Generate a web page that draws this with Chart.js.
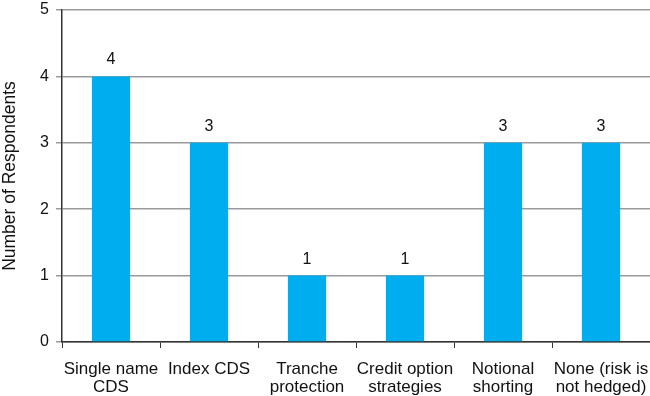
<!DOCTYPE html>
<html>
<head>
<meta charset="utf-8">
<script src="https://cdn.jsdelivr.net/npm/chart.js@4/dist/chart.umd.min.js"></script>
<style>
html,body{margin:0;padding:0;background:#fff;}
#wrap{width:650px;height:396px;position:relative;}
</style>
</head>
<body>
<div id="wrap"><canvas id="c" width="650" height="396"></canvas></div>
<script>
const categories = [
  ["Single name", "CDS"],
  ["Index CDS"],
  ["Tranche", "protection"],
  ["Credit option", "strategies"],
  ["Notional", "shorting"],
  ["None (risk is", "not hedged)"]
];
const respondents = [4, 3, 1, 1, 3, 3];
const yTicks = [0, 1, 2, 3, 4, 5];

const FONT = "'Liberation Sans', Arial, Helvetica, sans-serif";

const valueLabels = {
  id: 'valueLabels',
  afterDatasetsDraw(chart) {
    const ctx = chart.ctx;
    const meta = chart.getDatasetMeta(0);
    ctx.save();
    ctx.font = "16px " + FONT;
    ctx.fillStyle = "#111";
    ctx.textAlign = "center";
    ctx.textBaseline = "alphabetic";
    meta.data.forEach((bar, i) => {
      ctx.fillText(String(chart.data.datasets[0].data[i]), bar.x, bar.y - 12);
    });
    ctx.restore();
  }
};

new Chart(document.getElementById('c'), {
  type: 'bar',
  data: {
    labels: categories,
    datasets: [{
      data: respondents,
      backgroundColor: '#00AEEF',
      borderWidth: 0,
      barPercentage: 0.39,
      categoryPercentage: 1.0
    }]
  },
  options: {
    responsive: false,
    animation: false,
    devicePixelRatio: 1,
    layout: { padding: { top: 10, right: 0, left: 0, bottom: 0 } },
    plugins: { legend: { display: false }, tooltip: { enabled: false } },
    scales: {
      x: {
        offset: true,
        grid: { display: true, drawOnChartArea: false, offset: true, tickLength: 6, color: '#333', lineWidth: 1 },
        border: { display: true, color: '#333', width: 1.5 },
        ticks: { color: '#111', font: { family: FONT, size: 17, lineHeight: 1.06 }, maxRotation: 0, autoSkip: false, padding: 12 },
        afterFit(scale) { scale.height = 54; scale.paddingLeft = 0; scale.paddingRight = 0; }
      },
      y: {
        min: 0, max: 5,
        afterBuildTicks(scale) { scale.ticks = yTicks.map(v => ({ value: v })); },
        grid: { color: '#9a9a9a', lineWidth: 1.5, tickLength: 6, drawTicks: true },
        border: { display: true, color: '#333', width: 1.5 },
        ticks: { color: '#111', font: { family: FONT, size: 16 }, padding: 7 },
        title: { display: true, text: 'Number of Respondents', color: '#111', font: { family: FONT, size: 17.5 }, padding: { top: 0, bottom: 4 } },
        afterFit(scale) { scale.width = 62; scale.paddingTop = 0; scale.paddingBottom = 0; }
      }
    }
  },
  plugins: [valueLabels]
});
</script>
</body>
</html>
